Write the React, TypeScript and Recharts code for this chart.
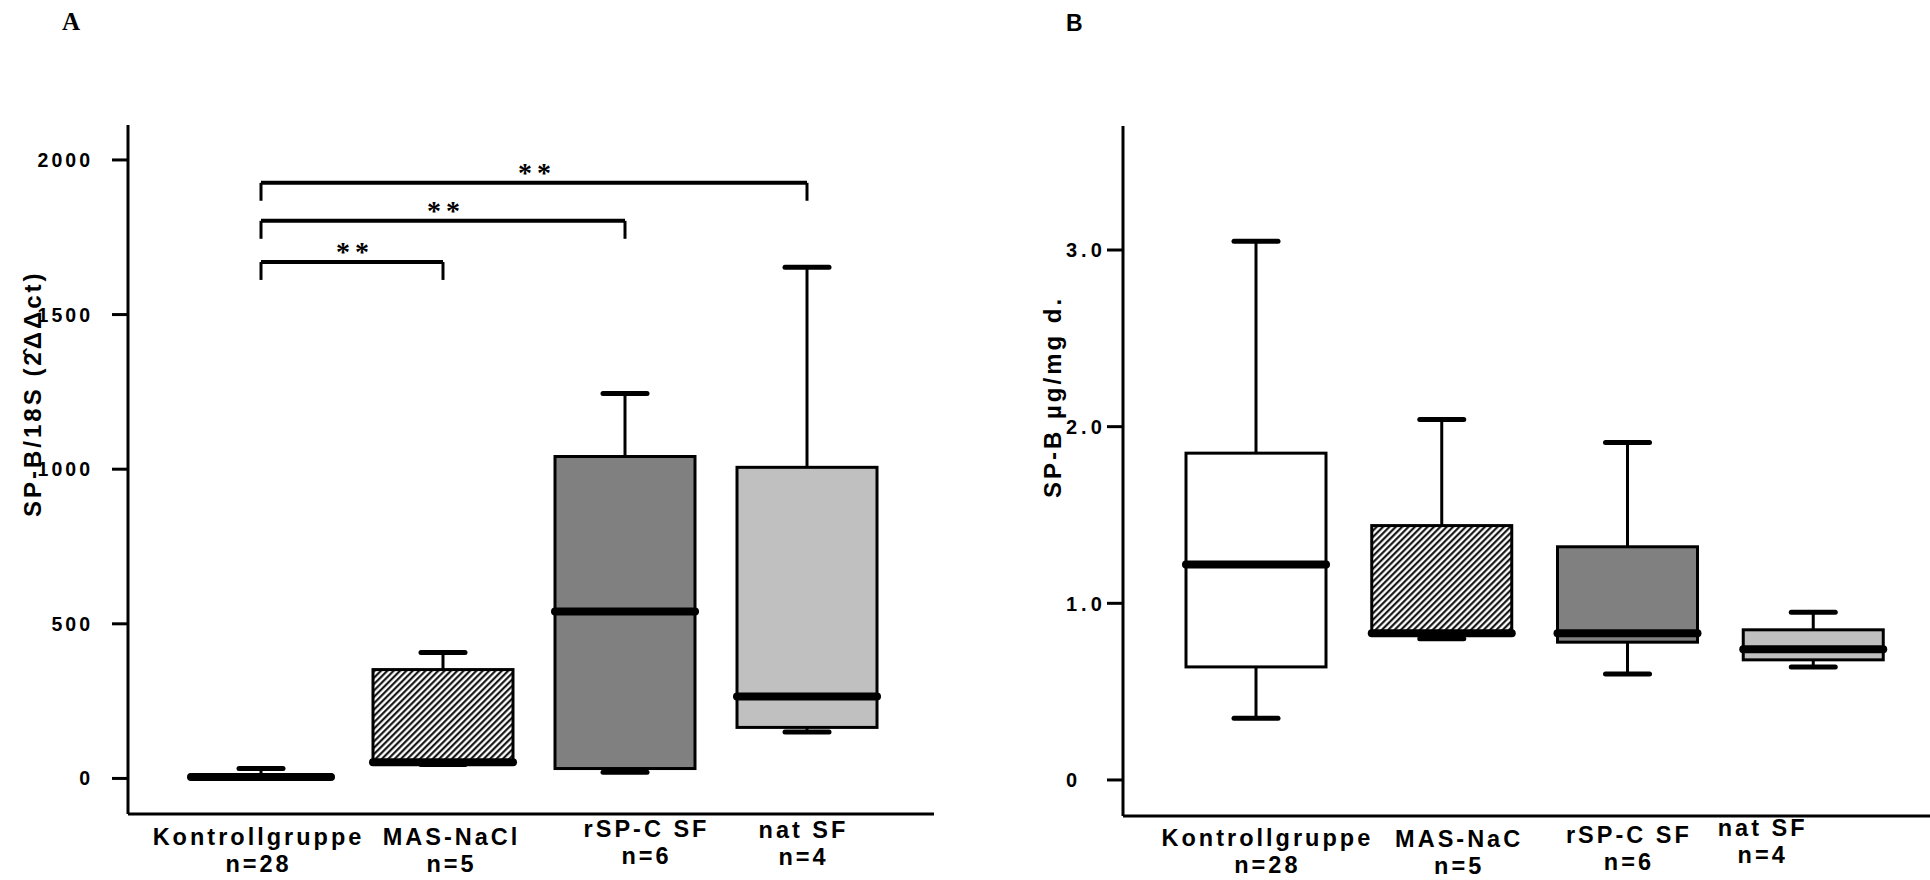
import React from "react";
import { ComposedChart, Bar, XAxis, YAxis, ReferenceLine } from "recharts";

// Panel A: SP-B/18S mRNA
const GROUPS_A = ["Kontrollgruppe", "MAS-NaCl", "rSP-C SF", "nat SF"];
const N_A = [28, 5, 6, 4];
const MIN_A = [0, 45, 20, 150];
const Q1_A = [0, 48, 32, 165];
const MEDIAN_A = [5, 52, 540, 265];
const Q3_A = [12, 352, 1041, 1006];
const MAX_A = [32, 407, 1245, 1653];
const TICKS_A = [0, 500, 1000, 1500, 2000];

// Panel B: SP-B protein
const GROUPS_B = ["Kontrollgruppe", "MAS-NaC", "rSP-C SF", "nat SF"];
const N_B = [28, 5, 6, 4];
const MIN_B = [0.35, 0.8, 0.6, 0.64];
const Q1_B = [0.64, 0.82, 0.78, 0.68];
const MEDIAN_B = [1.22, 0.83, 0.83, 0.74];
const Q3_B = [1.85, 1.44, 1.32, 0.85];
const MAX_B = [3.05, 2.04, 1.91, 0.95];
const TICKS_B = [0, 1, 2, 3];

// significance brackets in A, all against Kontrollgruppe
const SIG_TO = ["MAS-NaCl", "rSP-C SF", "nat SF"];
const SIG_LEVEL = [1670, 1803, 1926];
const SIG_DROP = 58;
const SIG_TEXT = "**";

const SANS = "'Liberation Sans', Arial, Helvetica, sans-serif";
const SERIF = "'Liberation Serif', 'Times New Roman', serif";
const FILLS_A = ["#ffffff", "url(#hatchA)", "#808080", "#c0c0c0"];
const FILLS_B = ["#ffffff", "url(#hatchB)", "#808080", "#c0c0c0"];
// the category labels in the original sit a little off their boxes
const NUDGE_A = [[-4, 1], [7, 1], [20, -7], [-5, -6]];
const NUDGE_B = [[10, 0], [16, 1], [0, -3], [-52, -10]];

type Row = {
  name: string;
  n: number;
  min: number;
  q1: number;
  median: number;
  q3: number;
  max: number;
  range: [number, number];
};

function toRows(
  groups: string[],
  n: number[],
  min: number[],
  q1: number[],
  med: number[],
  q3: number[],
  max: number[]
): Row[] {
  return groups.map((name, i) => ({
    name,
    n: n[i],
    min: min[i],
    q1: q1[i],
    median: med[i],
    q3: q3[i],
    max: max[i],
    range: [min[i], max[i]],
  }));
}

const rowsA = toRows(GROUPS_A, N_A, MIN_A, Q1_A, MEDIAN_A, Q3_A, MAX_A);
const rowsB = toRows(GROUPS_B, N_B, MIN_B, Q1_B, MEDIAN_B, Q3_B, MAX_B);

// bar covers min..max, everything else is placed by interpolating inside it
function boxShape(groups: string[], fills: string[]) {
  return (props: any) => {
    const { x, y, width, height, payload } = props;
    const top = Math.min(y, y + height);
    const bottom = Math.max(y, y + height);
    const span = payload.max - payload.min || 1;
    const py = (v: number) => bottom - ((v - payload.min) / span) * (bottom - top);
    const cx = x + width / 2;
    const cap = 22;
    const fill = fills[groups.indexOf(payload.name)];
    return (
      <g>
        <line x1={cx} x2={cx} y1={py(payload.q3)} y2={py(payload.max)} stroke="#000" strokeWidth={3} />
        <line x1={cx} x2={cx} y1={py(payload.q1)} y2={py(payload.min)} stroke="#000" strokeWidth={3} />
        <rect
          x={x}
          y={py(payload.q3)}
          width={width}
          height={Math.max(py(payload.q1) - py(payload.q3), 0.5)}
          fill={fill}
          stroke="#000"
          strokeWidth={3}
        />
        <line x1={x} x2={x + width} y1={py(payload.median)} y2={py(payload.median)} stroke="#000" strokeWidth={8} strokeLinecap="round" />
        <line x1={cx - cap} x2={cx + cap} y1={py(payload.max)} y2={py(payload.max)} stroke="#000" strokeWidth={5} strokeLinecap="round" />
        <line x1={cx - cap} x2={cx + cap} y1={py(payload.min)} y2={py(payload.min)} stroke="#000" strokeWidth={5} strokeLinecap="round" />
      </g>
    );
  };
}

function xTick(groups: string[], counts: number[], nudge: number[][]) {
  return (props: any) => {
    const { x, y, payload } = props;
    const i = groups.indexOf(payload.value);
    const [dx, dy] = nudge[i] || [0, 0];
    const common = {
      textAnchor: "middle" as const,
      fontFamily: SANS,
      fontWeight: "bold",
      fontSize: 23.5,
      letterSpacing: 3,
      fill: "#000",
    };
    return (
      <g>
        <text x={x + 1.5 + dx} y={y + 30 + dy} {...common}>{payload.value}</text>
        <text x={x + 1.5 + dx} y={y + 57 + dy} {...common}>{`n=${counts[i]}`}</text>
      </g>
    );
  };
}

const YTickA = (props: any) => (
  <text x={props.x} y={props.y} dy="0.36em" textAnchor="end" fontFamily={SANS} fontWeight="bold" fontSize={19.5} letterSpacing={3} fill="#000">
    {props.payload.value}
  </text>
);

const YTickB = (props: any) => {
  const v = props.payload.value as number;
  return (
    <text x={props.x} y={props.y} dy="0.36em" textAnchor="start" fontFamily={SANS} fontWeight="bold" fontSize={20} letterSpacing={4} fill="#000">
      {v === 0 ? "0" : v.toFixed(1)}
    </text>
  );
};

const TitleA = () => (
  <text
    transform="rotate(-90 41 517)"
    x={41}
    y={517}
    textAnchor="start"
    fontFamily={SANS}
    fontWeight="bold"
    fontSize={24}
    letterSpacing={3}
    fill="#000"
  >
    {"SP-B/18S (2\u0302\u0394\u0394ct)"}
  </text>
);

const TitleB = () => (
  <g>
    <defs>
      <clipPath id="clipTitleB">
        <rect x={0} y={297} width={163} height={583} />
      </clipPath>
    </defs>
    <g clipPath="url(#clipTitleB)">
      <text
        transform="rotate(-90 101 498)"
        x={101}
        y={498}
        textAnchor="start"
        fontFamily={SANS}
        fontWeight="bold"
        fontSize={24}
        letterSpacing={3}
        fill="#000"
      >
        {"SP-B \u00b5g/mg d.w."}
      </text>
    </g>
  </g>
);

const StarLabel = (props: any) => {
  const vb = props.viewBox || { x: 0, y: 0, width: 0 };
  return (
    <text
      x={vb.x + vb.width / 2 + 3}
      y={vb.y - 1}
      textAnchor="middle"
      fontFamily={SERIF}
      fontWeight="bold"
      fontSize={28}
      letterSpacing={5}
      fill="#000"
    >
      {SIG_TEXT}
    </text>
  );
};

function Hatch({ id }: { id: string }) {
  return (
    <pattern id={id} width={4.5} height={4.5} patternUnits="userSpaceOnUse" patternTransform="rotate(45)">
      <rect width={4.5} height={4.5} fill="#fff" />
      <line x1={1.2} y1={0} x2={1.2} y2={4.5} stroke="#000" strokeWidth={2} />
    </pattern>
  );
}

const axisStroke = { stroke: "#000", strokeWidth: 3 };

export default function App() {
  return (
    <div style={{ position: "absolute", left: 0, top: 0, width: 1930, height: 880, background: "#fff" }}>
      <div style={{ position: "absolute", left: 0, top: 0 }}>
        <ComposedChart width={960} height={880} data={rowsA} margin={{ top: 125, right: 26, bottom: 0, left: 0 }}>
          <defs>
            <Hatch id="hatchA" />
          </defs>
          <XAxis
            dataKey="name"
            type="category"
            height={66}
            axisLine={axisStroke}
            tickLine={false}
            tickSize={0}
            tickMargin={0}
            interval={0}
            padding={{ left: 42, right: 36 }}
            tick={xTick(GROUPS_A, N_A, NUDGE_A)}
          />
          <YAxis
            type="number"
            width={128}
            domain={[-115, 2113]}
            ticks={TICKS_A}
            interval={0}
            allowDataOverflow
            axisLine={axisStroke}
            tickLine={axisStroke}
            tickSize={16}
            tickMargin={19}
            tick={YTickA}
            label={{ content: TitleA }}
          />
          <Bar dataKey="range" barSize={140} isAnimationActive={false} shape={boxShape(GROUPS_A, FILLS_A)} />
          {SIG_TO.map((to, i) => (
            <React.Fragment key={to}>
              <ReferenceLine
                segment={[
                  { x: GROUPS_A[0], y: SIG_LEVEL[i] },
                  { x: to, y: SIG_LEVEL[i] },
                ]}
                stroke="#000"
                strokeWidth={4}
                label={{ content: StarLabel }}
              />
              <ReferenceLine
                segment={[
                  { x: GROUPS_A[0], y: SIG_LEVEL[i] },
                  { x: GROUPS_A[0], y: SIG_LEVEL[i] - SIG_DROP },
                ]}
                stroke="#000"
                strokeWidth={3}
              />
              <ReferenceLine
                segment={[
                  { x: to, y: SIG_LEVEL[i] },
                  { x: to, y: SIG_LEVEL[i] - SIG_DROP },
                ]}
                stroke="#000"
                strokeWidth={3}
              />
            </React.Fragment>
          ))}
        </ComposedChart>
      </div>

      <div style={{ position: "absolute", left: 960, top: 0 }}>
        <ComposedChart width={970} height={880} data={rowsB} margin={{ top: 126, right: 0, bottom: 0, left: 0 }}>
          <defs>
            <Hatch id="hatchB" />
          </defs>
          <XAxis
            dataKey="name"
            type="category"
            height={64}
            axisLine={axisStroke}
            tickLine={false}
            tickSize={0}
            tickMargin={0}
            interval={0}
            padding={{ left: 40, right: 24 }}
            tick={xTick(GROUPS_B, N_B, NUDGE_B)}
          />
          <YAxis
            type="number"
            width={163}
            domain={[-0.204, 3.702]}
            ticks={TICKS_B}
            interval={0}
            allowDataOverflow
            axisLine={axisStroke}
            tickLine={axisStroke}
            tickSize={16}
            tickMargin={41}
            tick={YTickB}
            label={{ content: TitleB }}
          />
          <Bar dataKey="range" barSize={140} isAnimationActive={false} shape={boxShape(GROUPS_B, FILLS_B)} />
        </ComposedChart>
      </div>

      <svg width={1930} height={880} style={{ position: "absolute", left: 0, top: 0, pointerEvents: "none" }}>
        <text x={62} y={30} fontFamily={SERIF} fontWeight="bold" fontSize={25} fill="#000">A</text>
        <text x={1066} y={31} fontFamily={SANS} fontWeight="bold" fontSize={23} fill="#000">B</text>
      </svg>
    </div>
  );
}
